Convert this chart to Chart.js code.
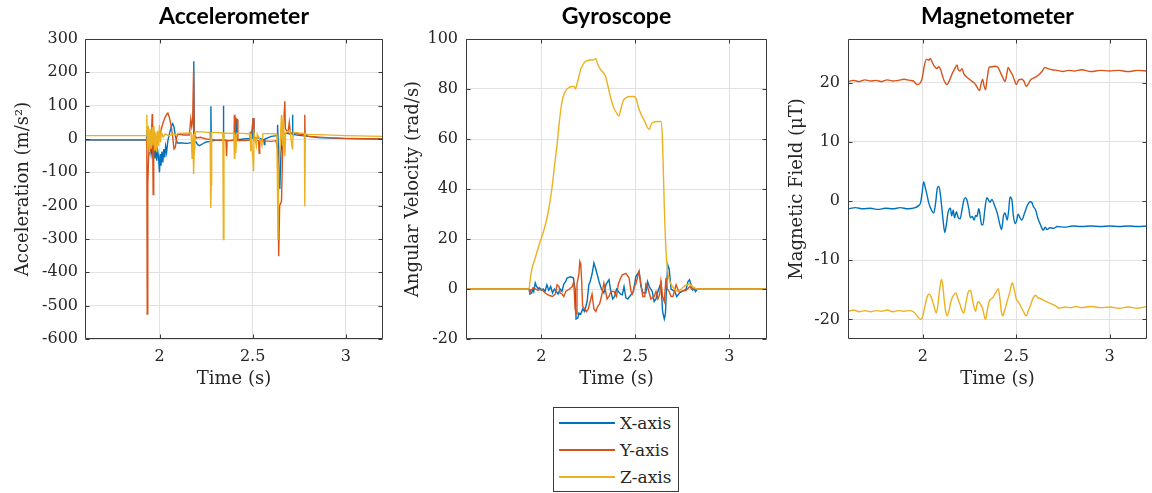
<!DOCTYPE html>
<html>
<head>
<meta charset="utf-8">
<script src="https://cdn.jsdelivr.net/npm/chart.js@4.4.1/dist/chart.umd.min.js"></script>
<style>
body { margin: 0; background: #fff; width: 1152px; height: 493px; position: relative; overflow: hidden; }
canvas { position: absolute; top: 0; }
#legend { position: absolute; left: 553px; top: 407px; width: 126px; height: 85px; border: 1px solid #3a3a3a; box-sizing: border-box; background: #fff; font-family: "DejaVu Serif"; font-size: 17px; color: #262626; }
.row { position: absolute; left: 0; height: 27px; display: flex; align-items: center; white-space: nowrap; }
.swatch { width: 56px; height: 2px; margin: 0 5px 0 5px; }
</style>
</head>
<body>
<canvas id="acc" width="390" height="400" style="left:0px"></canvas>
<canvas id="gyro" width="390" height="400" style="left:390px"></canvas>
<canvas id="mag" width="382" height="400" style="left:770px"></canvas>
<div id="legend"></div>
<script>
var seriesNames = ["X-axis", "Y-axis", "Z-axis"];
var seriesColors = ["#0072BD", "#D95319", "#EDB120"];
var timeTicks = [2, 2.5, 3];
var accTicks = [-600, -500, -400, -300, -200, -100, 0, 100, 200, 300];
var gyroTicks = [-20, 0, 20, 40, 60, 80, 100];
var magTicks = [-20, -10, 0, 10, 20];

// accelerometer [time, value]
var accX = [[1.6,-3],[1.8,-3],[1.93,-3],[1.933,28],[1.936,-20],[1.94,-8],[1.945,-35],[1.95,-15],[1.955,-45],[1.96,-22],[1.965,-55],[1.97,-30],[1.975,-58],[1.98,-28],[1.985,-65],[1.99,-35],[1.995,-55],[2.0,-100],[2.004,-45],[2.008,-80],[2.013,-38],[2.018,-70],[2.023,-30],[2.028,-55],[2.033,-22],[2.038,-40],[2.045,-5],[2.055,20],[2.065,40],[2.071,46],[2.077,38],[2.085,10],[2.095,-12],[2.12,-12],[2.15,-13],[2.17,-11],[2.18,-16],[2.183,60],[2.185,233],[2.187,-10],[2.195,-8],[2.205,-17],[2.215,-20],[2.23,-15],[2.25,-9],[2.274,-7],[2.276,98],[2.278,-6],[2.3,-4],[2.341,-3],[2.343,100],[2.345,-3],[2.37,-5],[2.405,-3],[2.408,58],[2.413,56],[2.416,-3],[2.45,0],[2.5,2],[2.503,63],[2.507,3],[2.53,3],[2.56,-2],[2.563,-17],[2.566,0],[2.6,8],[2.632,10],[2.634,43],[2.637,-5],[2.646,-150],[2.652,-40],[2.66,12],[2.68,18],[2.7,15],[2.712,18],[2.714,73],[2.716,14],[2.75,11],[2.8,8],[2.85,4],[3.0,1],[3.2,0]];
var accY = [[1.6,-2],[1.8,-2],[1.93,-2],[1.932,-30],[1.934,-525],[1.937,-140],[1.941,-60],[1.945,-10],[1.95,-40],[1.955,-5],[1.961,75],[1.963,10],[1.966,-167],[1.969,-20],[1.975,10],[1.98,-10],[1.99,5],[2.0,10],[2.01,30],[2.02,50],[2.03,65],[2.04,75],[2.045,78],[2.05,70],[2.055,60],[2.062,40],[2.07,10],[2.078,-30],[2.085,-25],[2.092,5],[2.1,15],[2.13,12],[2.16,12],[2.168,60],[2.173,38],[2.178,55],[2.183,205],[2.186,20],[2.19,10],[2.2,3],[2.22,5],[2.25,0],[2.3,-3],[2.357,-4],[2.36,-52],[2.363,-5],[2.4,-4],[2.402,73],[2.405,20],[2.41,62],[2.418,58],[2.421,-5],[2.45,-5],[2.485,-3],[2.487,22],[2.49,-3],[2.503,63],[2.507,-5],[2.532,-5],[2.535,-43],[2.538,-5],[2.6,-7],[2.625,-5],[2.635,-30],[2.64,-352],[2.645,-200],[2.655,-187],[2.66,-60],[2.665,30],[2.673,113],[2.676,30],[2.69,20],[2.697,50],[2.703,15],[2.72,18],[2.75,15],[2.778,12],[2.78,73],[2.782,12],[2.8,8],[2.9,4],[3.0,2],[3.2,0]];
var accZ = [[1.6,10],[1.8,10],[1.93,10],[1.932,73],[1.935,-30],[1.94,40],[1.945,-40],[1.95,30],[1.955,-30],[1.96,35],[1.965,-20],[1.97,40],[1.975,-35],[1.98,20],[1.985,-40],[1.99,25],[1.995,-20],[2.0,42],[2.005,-10],[2.01,20],[2.02,5],[2.03,15],[2.05,10],[2.07,15],[2.09,12],[2.1,17],[2.17,18],[2.175,-60],[2.18,15],[2.183,-105],[2.187,-30],[2.19,20],[2.2,22],[2.27,20],[2.272,-10],[2.275,-207],[2.278,-137],[2.28,20],[2.3,20],[2.34,18],[2.343,-302],[2.346,18],[2.38,17],[2.4,18],[2.402,-57],[2.405,15],[2.41,-42],[2.415,17],[2.45,17],[2.487,15],[2.49,-37],[2.493,16],[2.505,-97],[2.508,15],[2.52,-20],[2.525,15],[2.55,-20],[2.555,16],[2.6,16],[2.63,15],[2.633,-132],[2.636,-302],[2.64,-100],[2.655,73],[2.66,-20],[2.665,70],[2.673,-52],[2.678,20],[2.7,25],[2.714,-32],[2.718,20],[2.75,18],[2.778,17],[2.78,-202],[2.783,15],[2.8,14],[2.85,13],[3.0,10],[3.2,8]];

// gyroscope [time, value]
var gyroX = [[1.6,0],[1.935,0],[1.94,-2],[1.95,-1.5],[1.955,0],[1.96,-1],[1.968,2.4],[1.975,1],[1.985,0],[1.99,0.5],[2.0,-0.5],[2.01,0],[2.02,-1],[2.03,1.7],[2.04,-0.5],[2.05,1],[2.06,-1.6],[2.07,0],[2.08,-1],[2.09,-2],[2.1,0],[2.11,-1],[2.12,2],[2.13,3],[2.137,4.4],[2.155,4.9],[2.17,4.5],[2.18,0],[2.185,-12],[2.195,-11.5],[2.2,-9.6],[2.21,-10],[2.22,-8],[2.23,-9],[2.244,-5],[2.253,1.7],[2.26,3],[2.27,6],[2.28,10.4],[2.29,8],[2.307,3],[2.32,0],[2.333,-1.6],[2.345,2],[2.36,3.7],[2.37,-1],[2.38,-4],[2.39,-3],[2.4,0],[2.41,-1],[2.42,-2],[2.431,-2.3],[2.44,1],[2.45,-3.5],[2.46,-4],[2.47,-3],[2.48,-2],[2.49,-1],[2.503,5],[2.52,7],[2.53,1],[2.54,-1.5],[2.556,-1.6],[2.565,3],[2.574,1],[2.59,-1],[2.6,-5],[2.61,-4],[2.62,-1],[2.636,2.4],[2.645,-9],[2.654,-12],[2.66,-10],[2.665,-1],[2.672,9.7],[2.68,8],[2.69,0],[2.71,-1],[2.72,-3],[2.735,-1.6],[2.75,-1],[2.77,0],[2.78,3],[2.788,3.7],[2.795,2],[2.805,-0.5],[2.815,0],[2.82,-1],[2.83,0],[3.2,0]];
var gyroY = [[1.6,0],[1.935,0],[1.94,-1],[1.96,0.5],[1.98,-0.5],[2.0,0],[2.02,-1.5],[2.04,-2.5],[2.06,-3],[2.075,-2],[2.084,1.7],[2.095,1],[2.1,-1.6],[2.11,-2],[2.12,-3],[2.13,-1],[2.15,0],[2.165,1],[2.173,3],[2.18,-8],[2.185,-10],[2.19,2],[2.2,6],[2.205,11],[2.21,10],[2.215,3],[2.22,-7],[2.23,-8],[2.24,-9],[2.25,-8],[2.26,-5],[2.27,-2],[2.28,-8],[2.29,-9],[2.3,-7],[2.31,-6],[2.32,-3],[2.333,2.4],[2.34,0],[2.35,-4],[2.36,-3],[2.37,-1],[2.387,-1],[2.4,-3],[2.41,2],[2.42,4],[2.431,5.7],[2.45,6.3],[2.467,4.4],[2.477,-1],[2.485,-2],[2.495,1],[2.503,2],[2.52,7],[2.53,2],[2.54,-3],[2.55,-3],[2.556,2],[2.565,1],[2.574,-1.6],[2.583,-4],[2.6,-3],[2.61,-1],[2.62,-4],[2.63,-2],[2.636,3],[2.645,-3],[2.654,-5],[2.663,4.4],[2.67,0],[2.68,-1],[2.69,-3],[2.7,-3],[2.717,1.7],[2.73,-1],[2.74,-1],[2.77,-0.5],[2.79,1],[2.8,0],[2.82,0],[3.2,0]];
var gyroZ = [[1.6,0],[1.935,0],[1.94,3],[1.95,8],[1.968,12.4],[1.99,18],[2.012,23],[2.035,30],[2.057,40.4],[2.07,49],[2.084,57.7],[2.095,66],[2.105,72.4],[2.115,76.5],[2.128,79],[2.145,80.5],[2.164,81],[2.175,81],[2.182,80],[2.19,82],[2.2,85],[2.209,87.7],[2.222,89.8],[2.235,91],[2.26,91.6],[2.28,91.7],[2.289,92.2],[2.3,90],[2.316,87.7],[2.33,86.5],[2.342,85],[2.355,81],[2.369,76.5],[2.385,72.5],[2.396,71],[2.413,69.2],[2.425,72.5],[2.437,75.5],[2.45,76.5],[2.47,77],[2.494,77],[2.505,76],[2.515,73],[2.53,70],[2.55,67],[2.565,64.5],[2.574,63.8],[2.585,66],[2.6,66.8],[2.62,67],[2.636,67],[2.643,62],[2.648,50],[2.654,33],[2.66,20],[2.667,11],[2.675,5.5],[2.687,2.4],[2.7,0.8],[2.715,-0.5],[2.728,-1],[2.74,-0.2],[2.755,0.8],[2.77,1.5],[2.788,2],[2.8,1.2],[2.815,0.5],[2.83,0],[3.2,0]];

// magnetometer [time, value]
var magX = [[1.6,-1.3],[1.64,-1.1],[1.68,-1.3],[1.72,-1.2],[1.76,-1.4],[1.8,-1.2],[1.84,-1.3],[1.88,-1.1],[1.92,-1.3],[1.96,-1.1],[1.975,-0.8],[1.988,-0.3],[1.997,1.5],[2.005,3.3],[2.012,2.5],[2.023,1.0],[2.032,-0.3],[2.045,-1.4],[2.059,-2],[2.07,0],[2.078,2.2],[2.086,2.5],[2.093,1.5],[2.1,-0.5],[2.108,-3],[2.118,-5.3],[2.126,-4],[2.135,-2],[2.14,-1.4],[2.148,-1.2],[2.155,-2.5],[2.163,-1.5],[2.17,-2.8],[2.18,-1.8],[2.19,-2.8],[2.2,-3],[2.21,-1.5],[2.22,0.2],[2.228,0.6],[2.235,0.3],[2.246,-1.2],[2.255,-2.8],[2.265,-2.6],[2.275,-3.2],[2.283,-2.4],[2.29,-2.6],[2.3,-1.3],[2.306,-2.2],[2.315,-4],[2.322,-4],[2.332,-1.5],[2.343,0.6],[2.35,0.3],[2.36,-0.2],[2.37,0.3],[2.385,-0.8],[2.4,-2.2],[2.413,-4],[2.422,-4.8],[2.432,-2.5],[2.44,-2],[2.452,-3.2],[2.46,-1.5],[2.467,0.7],[2.477,0.2],[2.485,-2.5],[2.495,-3.8],[2.503,-3.2],[2.51,-2.2],[2.52,-2.8],[2.53,-3.2],[2.545,-2],[2.56,-0.7],[2.575,-0.1],[2.583,-0.2],[2.592,-0.9],[2.604,-1.5],[2.615,-2.8],[2.63,-4],[2.645,-4.9],[2.655,-4.4],[2.665,-4.8],[2.68,-4.5],[2.7,-4.6],[2.72,-4.3],[2.76,-4.4],[2.8,-4.2],[2.85,-4.3],[2.9,-4.2],[2.95,-4.3],[3.0,-4.2],[3.05,-4.3],[3.1,-4.2],[3.15,-4.3],[3.2,-4.2]];
var magY = [[1.6,20.2],[1.63,20.4],[1.66,20.2],[1.69,20.5],[1.72,20.3],[1.75,20.4],[1.78,20.2],[1.81,20.5],[1.84,20.3],[1.87,20.4],[1.9,20.6],[1.93,20.4],[1.95,20.3],[1.97,19.7],[1.985,19.9],[1.997,20.8],[2.008,22.8],[2.02,24],[2.032,23.8],[2.04,24.1],[2.05,23.5],[2.062,22.8],[2.077,22.4],[2.085,22.7],[2.095,22.3],[2.105,21.2],[2.115,20.3],[2.13,19.7],[2.14,20.2],[2.157,21.5],[2.17,22.3],[2.184,23],[2.19,22.2],[2.2,22],[2.21,22.4],[2.22,21.5],[2.238,20.9],[2.25,20.6],[2.265,20.2],[2.278,19.9],[2.29,19.3],[2.304,18.7],[2.312,19.8],[2.32,20.6],[2.328,19.5],[2.336,18.8],[2.345,20.8],[2.355,22.6],[2.37,22.7],[2.385,22.8],[2.4,22.7],[2.418,21.6],[2.43,20.8],[2.44,20.2],[2.45,21.5],[2.457,22.6],[2.468,22],[2.479,21.4],[2.49,20.5],[2.5,19.7],[2.514,20.5],[2.528,20.6],[2.541,20.3],[2.554,19.4],[2.565,19.8],[2.577,20.5],[2.6,20.9],[2.62,21.3],[2.64,22],[2.654,22.6],[2.67,22.4],[2.693,22.2],[2.72,22.1],[2.75,21.9],[2.78,22.1],[2.81,22],[2.85,22.2],[2.9,21.9],[2.95,22.1],[3.0,22],[3.05,22.1],[3.1,21.9],[3.15,22.1],[3.2,22]];
var magZ = [[1.6,-18.6],[1.63,-18.4],[1.66,-18.7],[1.69,-18.5],[1.72,-18.7],[1.75,-18.5],[1.78,-18.6],[1.81,-18.4],[1.84,-18.7],[1.87,-18.5],[1.9,-18.6],[1.93,-18.5],[1.95,-18.7],[1.97,-19.4],[1.988,-20],[2.0,-19.4],[2.01,-18],[2.023,-16.2],[2.035,-15.7],[2.046,-16.3],[2.059,-17.6],[2.072,-18.9],[2.08,-17.8],[2.09,-15],[2.1,-13.2],[2.108,-14.5],[2.115,-16.8],[2.122,-18.5],[2.13,-19.4],[2.14,-18.6],[2.15,-17],[2.163,-16],[2.178,-15.5],[2.188,-16.5],[2.2,-17.5],[2.21,-18.5],[2.22,-18.9],[2.232,-17],[2.246,-15.2],[2.256,-15.1],[2.265,-16.5],[2.275,-18],[2.283,-18.6],[2.292,-17.2],[2.3,-17],[2.31,-17.5],[2.32,-18.1],[2.33,-19.5],[2.336,-20],[2.345,-18.5],[2.355,-17],[2.363,-16.6],[2.375,-16.3],[2.39,-15.5],[2.404,-14.8],[2.413,-16.5],[2.42,-18.5],[2.427,-19.4],[2.437,-18.6],[2.452,-16.9],[2.465,-15.5],[2.479,-13.8],[2.49,-15],[2.5,-16.5],[2.51,-17],[2.52,-17.5],[2.535,-18.4],[2.554,-19.4],[2.565,-18.5],[2.577,-17.6],[2.59,-16.4],[2.604,-15.9],[2.615,-16.3],[2.63,-16.5],[2.65,-16.8],[2.676,-17.2],[2.71,-17.7],[2.73,-18.1],[2.76,-17.9],[2.79,-18],[2.82,-17.8],[2.85,-18],[2.9,-17.8],[2.95,-18],[3.0,-17.9],[3.05,-18.1],[3.1,-17.9],[3.15,-18.1],[3.2,-17.8]];

var textColor = '#262626';
var serif = '"DejaVu Serif"';

// frame round the plot area with inward ticks on all four sides
var boxPlugin = {
    id: 'box',
    afterDraw: function (chart) {
        var ctx = chart.ctx;
        var a = chart.chartArea;
        var xs = chart.scales.x, ys = chart.scales.y;
        var l = Math.round(a.left) + 0.5, r = Math.round(a.right) - 0.5;
        var t = Math.round(a.top) + 0.5, b = Math.round(a.bottom) - 0.5;
        ctx.save();
        ctx.strokeStyle = '#3a3a3a';
        ctx.lineWidth = 1;
        ctx.beginPath();
        ctx.rect(l, t, r - l, b - t);
        xs.ticks.forEach(function (tk) {
            var px = Math.round(xs.getPixelForValue(tk.value)) + 0.5;
            ctx.moveTo(px, b); ctx.lineTo(px, b - 4);
            ctx.moveTo(px, t); ctx.lineTo(px, t + 4);
        });
        ys.ticks.forEach(function (tk) {
            var py = Math.round(ys.getPixelForValue(tk.value)) + 0.5;
            ctx.moveTo(l, py); ctx.lineTo(l + 4, py);
            ctx.moveTo(r, py); ctx.lineTo(r - 4, py);
        });
        ctx.stroke();
        ctx.restore();
    }
};

function makeChart(id, title, yLabel, series, yMin, yMax, yTicks, axisWidth, titleOffset, tickPad, rightPad, smooth) {
    var datasets = series.map(function (pts, i) {
        return {
            label: seriesNames[i],
            data: pts.map(function (p) { return {x: p[0], y: p[1]}; }),
            borderColor: seriesColors[i],
            borderWidth: 1.4,
            pointRadius: 0,
            fill: false,
            order: 3 - i,
            cubicInterpolationMode: smooth[i] ? 'monotone' : 'default',
            tension: 0
        };
    });
    return new Chart(document.getElementById(id), {
        type: 'line',
        data: {datasets: datasets},
        options: {
            responsive: false,
            animation: false,
            devicePixelRatio: 1,
            layout: {padding: {left: 0, right: rightPad, top: 0, bottom: 0}},
            plugins: {
                legend: {display: false},
                tooltip: {enabled: false},
                title: {
                    display: true,
                    text: title,
                    fullSize: false,
                    color: '#000',
                    font: {family: 'Lato', size: 23, weight: 'bold', lineHeight: 1},
                    padding: {top: 5, bottom: 11}
                }
            },
            scales: {
                x: {
                    type: 'linear',
                    min: 1.6,
                    max: 3.2,
                    afterBuildTicks: function (s) { s.ticks = timeTicks.map(function (v) { return {value: v}; }); },
                    afterFit: function (s) { s.height = 61; },
                    grid: {color: '#e2e2e2', drawTicks: false},
                    border: {display: false},
                    ticks: {
                        color: textColor,
                        padding: 8,
                        autoSkip: false,
                        maxRotation: 0,
                        font: {family: serif, size: 16},
                        callback: function (v) { return String(v); }
                    },
                    title: {
                        display: true,
                        text: 'Time (s)',
                        color: textColor,
                        font: {family: serif, size: 18},
                        padding: {top: 0, bottom: 10}
                    }
                },
                y: {
                    type: 'linear',
                    min: yMin,
                    max: yMax,
                    afterBuildTicks: function (s) { s.ticks = yTicks.map(function (v) { return {value: v}; }); },
                    afterFit: function (s) { s.width = axisWidth; },
                    grid: {color: '#e2e2e2', drawTicks: false},
                    border: {display: false},
                    ticks: {
                        color: textColor,
                        padding: tickPad,
                        autoSkip: false,
                        font: {family: serif, size: 16},
                        callback: function (v) { return String(v); }
                    },
                    title: {
                        display: true,
                        text: yLabel,
                        color: textColor,
                        font: {family: serif, size: 18},
                        padding: {top: titleOffset, bottom: 0}
                    }
                }
            }
        },
        plugins: [boxPlugin]
    });
}

makeChart('acc', 'Accelerometer', 'Acceleration (m/s\u00B2)', [accX, accY, accZ], -600, 300, accTicks, 85, 13, 7, 7, [false, false, false]);
makeChart('gyro', 'Gyroscope', 'Angular Velocity (rad/s)', [gyroX, gyroY, gyroZ], -20, 100, gyroTicks, 76, 13, 8, 13, [false, false, true]);
makeChart('mag', 'Magnetometer', 'Magnetic Field (\u03BCT)', [magX, magY, magZ], -23.3, 27.4, magTicks, 78, 17, 8, 5, [true, true, true]);

// legend under the middle panel
var legend = document.getElementById("legend");
seriesNames.forEach(function (name, i) {
    var row = document.createElement("div");
    row.className = "row";
    row.style.top = (1 + i * 27) + "px";
    var sw = document.createElement("span");
    sw.className = "swatch";
    sw.style.background = seriesColors[i];
    row.appendChild(sw);
    row.appendChild(document.createTextNode(name));
    legend.appendChild(row);
});
</script>
</body>
</html>
